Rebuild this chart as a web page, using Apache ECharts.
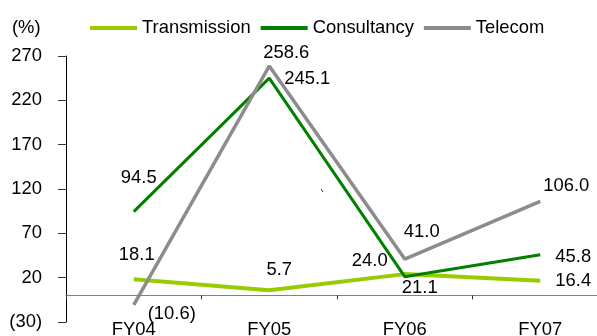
<!DOCTYPE html>
<html>
<head>
<meta charset="utf-8">
<script src="https://cdn.jsdelivr.net/npm/echarts@6/dist/echarts.min.js"></script>
<style>
  html, body { margin: 0; padding: 0; background: #fff; }
  #chart { width: 597px; height: 336px; }
</style>
</head>
<body>
<div id="chart"></div>
<script>
// Growth by business segment, % year on year
const categories = ['FY04', 'FY05', 'FY06', 'FY07'];
const transmission = [18.1, 5.7, 24.0, 16.4];
const consultancy = [94.5, 245.1, 21.1, 45.8];
const telecom = [-10.6, 258.6, 41.0, 106.0];
const yTicks = { min: -30, max: 270, step: 50 };

// Label placement around each point: [dx, dy] from the point centre
const transmissionLabelShift = [[3, -24], [10, -20], [-35, -13], [33, 0]];
const consultancyLabelShift = [[5, -34], [38, 1], [15, 11], [33, 2]];
const telecomLabelShift = [[38, 9], [17, -13], [17, -27], [26, -15]];

const FONT = '"Liberation Sans", Arial, sans-serif';
const FS = 18.4;

function fmt(v) {
  return v < 0 ? '(' + Math.abs(v).toFixed(1) + ')' : v.toFixed(1);
}

function buildData(values, shifts) {
  return values.map((v, i) => ({
    value: v,
    label: { offset: shifts[i] }
  }));
}

function lineSeries(name, values, shifts, color, width) {
  return {
    name: name,
    type: 'line',
    xAxisIndex: 0,
    data: buildData(values, shifts),
    symbol: 'circle',
    symbolSize: 0,
    showSymbol: true,
    itemStyle: { color: color },
    lineStyle: { color: color, width: width },
    label: {
      show: true,
      position: 'inside',
      formatter: p => fmt(p.value),
      color: '#000',
      fontSize: FS,
      fontFamily: FONT
    },
    emphasis: { disabled: true },
    animation: false,
    z: 3
  };
}

const chart = echarts.init(document.getElementById('chart'), null, { renderer: 'canvas' });

chart.setOption({
  backgroundColor: '#fff',
  animation: false,
  grid: { left: 66, right: -11, top: 56, bottom: 14, containLabel: false, outerBoundsMode: 'none' },
  legend: {
    left: 90,
    top: 19,
    padding: 0,
    itemWidth: 47,
    itemHeight: 4,
    itemGap: 10,
    icon: 'rect',
    textStyle: { fontSize: FS, fontFamily: FONT, color: '#000', padding: [0, 0, 0, 0] },
    data: ['Transmission', 'Consultancy', 'Telecom']
  },
  xAxis: [
    {
      type: 'category',
      data: categories,
      boundaryGap: true,
      axisLine: { onZero: true, lineStyle: { color: '#808080', width: 1 } },
      axisTick: { show: true, length: 4, lineStyle: { color: '#333' } },
      axisLabel: { show: false },
      splitLine: { show: false },
      z: 4
    },
    {
      type: 'category',
      data: categories,
      position: 'bottom',
      boundaryGap: true,
      axisLine: { show: false, onZero: false },
      axisTick: { show: false },
      axisLabel: { show: true, margin: -1, color: '#000', fontSize: FS, fontFamily: FONT },
      splitLine: { show: false }
    }
  ],
  yAxis: {
    type: 'value',
    min: yTicks.min,
    max: yTicks.max,
    interval: yTicks.step,
    axisLine: { show: true, lineStyle: { color: '#000', width: 1 } },
    axisTick: { show: true, length: 8, lineStyle: { color: '#333' } },
    axisLabel: {
      margin: 24,
      color: '#000',
      fontSize: FS,
      fontFamily: FONT,
      formatter: v => (v < 0 ? '(' + Math.abs(v) + ')' : String(v))
    },
    splitLine: { show: false }
  },
  graphic: [
    {
      type: 'text',
      left: 12,
      top: 19,
      style: { text: '(%)', fontSize: FS, fontFamily: FONT, fill: '#000' }
    },
    {
      type: 'line',
      shape: { x1: 321, y1: 189, x2: 323, y2: 192 },
      style: { stroke: '#333', lineWidth: 1 }
    }
  ],
  series: [
    lineSeries('Transmission', transmission, transmissionLabelShift, '#99CC00', 4),
    lineSeries('Consultancy', consultancy, consultancyLabelShift, '#008000', 3),
    lineSeries('Telecom', telecom, telecomLabelShift, '#8C8C8C', 3.5)
  ]
});
</script>
</body>
</html>
